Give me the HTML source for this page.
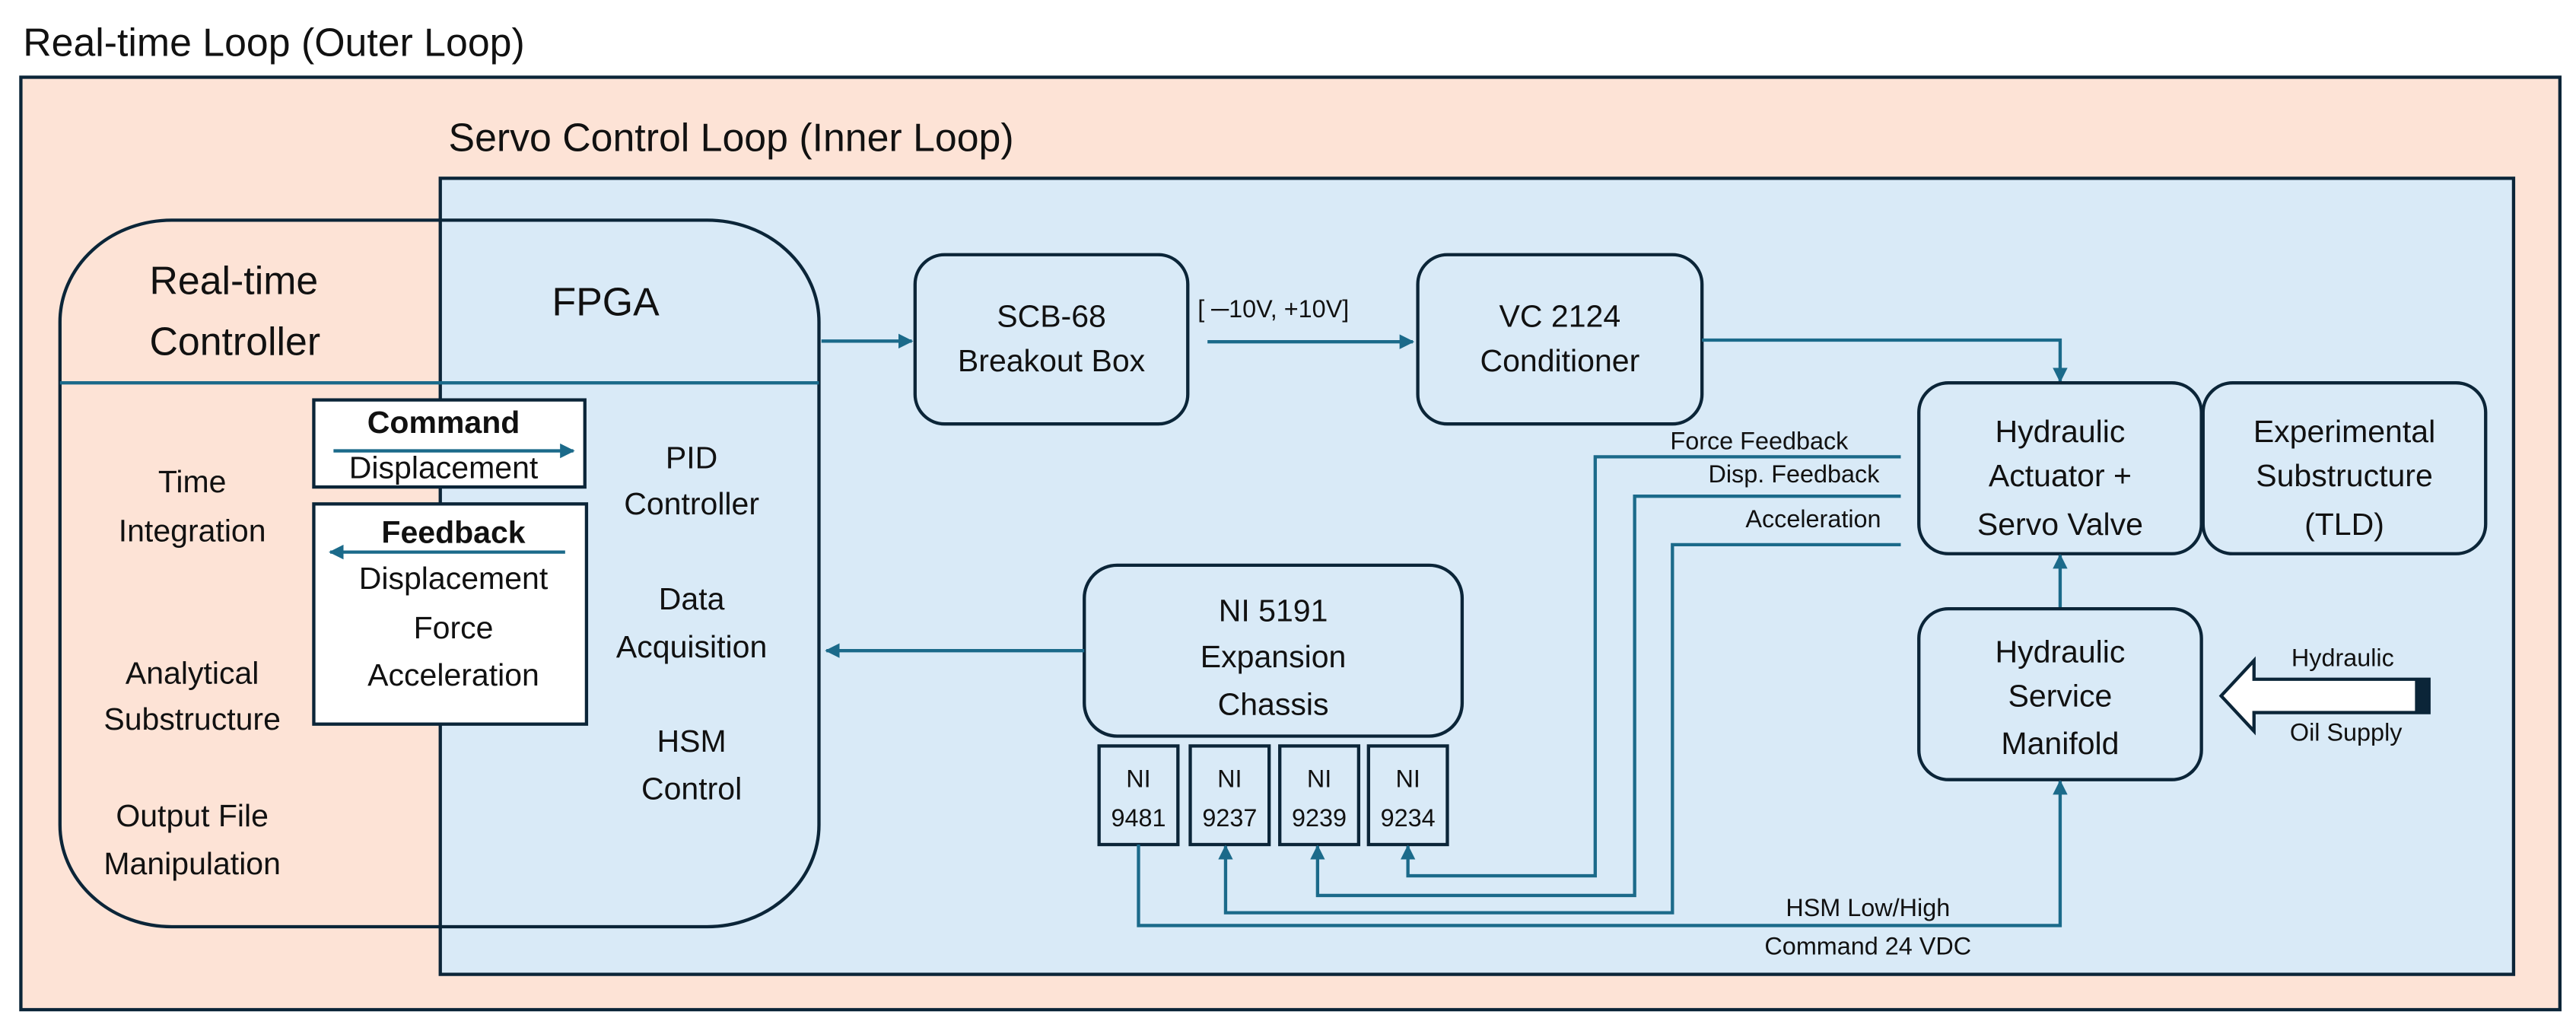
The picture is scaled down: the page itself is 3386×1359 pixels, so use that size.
<!DOCTYPE html>
<html><head><meta charset="utf-8"><style>
html,body{margin:0;padding:0;background:#fff;}
svg{display:block;}
text{font-family:"Liberation Sans",sans-serif;fill:#111;}
</style></head><body>
<svg width="3386" height="1359" viewBox="0 0 1568 629.3" preserveAspectRatio="none" xmlns="http://www.w3.org/2000/svg">
<defs>
<marker id="a" viewBox="0 0 10 10" refX="9" refY="5" markerWidth="9" markerHeight="9" markerUnits="userSpaceOnUse" orient="auto"><path d="M0,0 L10,5 L0,10 Z" fill="#1b6a8a"/></marker>
</defs>
<g font-size="19">
<!-- outer -->
<text x="14" y="34" font-size="24">Real-time Loop (Outer Loop)</text>
<rect x="12.7" y="47" width="1545.5" height="567.5" fill="#fde3d6" stroke="#0b2538" stroke-width="2"/>
<text x="273" y="92" font-size="24">Servo Control Loop (Inner Loop)</text>
<rect x="268" y="108.5" width="1262" height="484.5" fill="#d9eaf7" stroke="#0b2538" stroke-width="2"/>
<!-- big rounded -->
<rect x="36.5" y="134" width="462" height="430" rx="68" ry="62" fill="none" stroke="#0b2538" stroke-width="2"/>
<line x1="36.5" y1="233" x2="498.5" y2="233" stroke="#1b6a8a" stroke-width="2"/>
<text x="91" y="179" font-size="24">Real-time</text>
<text x="91" y="216" font-size="24">Controller</text>
<text x="336" y="192" font-size="24">FPGA</text>
<g text-anchor="middle">
<text x="117" y="299.5">Time</text><text x="117" y="329.5">Integration</text>
<text x="117" y="416">Analytical</text><text x="117" y="444">Substructure</text>
<text x="117" y="503">Output File</text><text x="117" y="532">Manipulation</text>
<text x="421" y="285">PID</text><text x="421" y="313">Controller</text>
<text x="421" y="371">Data</text><text x="421" y="400">Acquisition</text>
<text x="421" y="457.5">HSM</text><text x="421" y="486.5">Control</text>
</g>
<!-- command/feedback boxes -->
<rect x="191" y="243.4" width="165" height="53" fill="#fff" stroke="#0b2538" stroke-width="2"/>
<text x="270" y="263.4" text-anchor="middle" font-weight="bold">Command</text>
<line x1="203" y1="274.4" x2="349" y2="274.4" stroke="#1b6a8a" stroke-width="2" marker-end="url(#a)"/>
<text x="270" y="291" text-anchor="middle">Displacement</text>
<rect x="191" y="306.7" width="166" height="134" fill="#fff" stroke="#0b2538" stroke-width="2"/>
<text x="276" y="330.5" text-anchor="middle" font-weight="bold">Feedback</text>
<line x1="344" y1="336" x2="201" y2="336" stroke="#1b6a8a" stroke-width="2" marker-end="url(#a)"/>
<g text-anchor="middle">
<text x="276" y="358.4">Displacement</text><text x="276" y="388.4">Force</text><text x="276" y="417.3">Acceleration</text>
</g>
<!-- connectors top -->
<line x1="500" y1="207.6" x2="555" y2="207.6" stroke="#1b6a8a" stroke-width="2" marker-end="url(#a)"/>
<rect x="557" y="155" width="166" height="103" rx="18" fill="none" stroke="#0b2538" stroke-width="2"/>
<g text-anchor="middle"><text x="640" y="199">SCB-68</text><text x="640" y="226">Breakout Box</text></g>
<text x="729" y="193" font-size="15">[ ─10V, +10V]</text>
<line x1="735" y1="208" x2="860" y2="208" stroke="#1b6a8a" stroke-width="2" marker-end="url(#a)"/>
<rect x="863" y="155" width="173" height="103" rx="18" fill="none" stroke="#0b2538" stroke-width="2"/>
<g text-anchor="middle"><text x="949.5" y="199">VC 2124</text><text x="949.5" y="226">Conditioner</text></g>
<polyline points="1036,207 1254,207 1254,232" fill="none" stroke="#1b6a8a" stroke-width="2" marker-end="url(#a)"/>
<!-- right boxes -->
<rect x="1168" y="233" width="172" height="104" rx="18" fill="none" stroke="#0b2538" stroke-width="2"/>
<g text-anchor="middle"><text x="1254" y="269">Hydraulic</text><text x="1254" y="296">Actuator +</text><text x="1254" y="325.6">Servo Valve</text></g>
<rect x="1341" y="233" width="172" height="104" rx="18" fill="none" stroke="#0b2538" stroke-width="2"/>
<g text-anchor="middle"><text x="1427" y="269">Experimental</text><text x="1427" y="296">Substructure</text><text x="1427" y="325.6">(TLD)</text></g>
<line x1="1254" y1="370" x2="1254" y2="338" stroke="#1b6a8a" stroke-width="2" marker-end="url(#a)"/>
<rect x="1168" y="370.5" width="172" height="104" rx="18" fill="none" stroke="#0b2538" stroke-width="2"/>
<g text-anchor="middle"><text x="1254" y="403">Hydraulic</text><text x="1254" y="430">Service</text><text x="1254" y="459">Manifold</text></g>
<path d="M1352,423.5 L1372,402 L1372,413.4 L1478.5,413.4 L1478.5,433.7 L1372,433.7 L1372,445 Z" fill="#fff" stroke="#0b2538" stroke-width="2"/>
<rect x="1470" y="413.4" width="8.5" height="20.3" fill="#0b2538"/>
<g text-anchor="middle" font-size="15"><text x="1426" y="405.4">Hydraulic</text><text x="1428" y="450.8">Oil Supply</text></g>
<!-- NI 5191 -->
<rect x="660" y="344" width="230" height="104" rx="20" fill="none" stroke="#0b2538" stroke-width="2"/>
<g text-anchor="middle"><text x="775" y="378">NI 5191</text><text x="775" y="406">Expansion</text><text x="775" y="435">Chassis</text></g>
<line x1="660" y1="396" x2="503" y2="396" stroke="#1b6a8a" stroke-width="2" marker-end="url(#a)"/>
<g fill="none" stroke="#0b2538" stroke-width="2">
<rect x="669" y="454" width="48" height="60"/><rect x="724.5" y="454" width="48" height="60"/><rect x="779" y="454" width="48" height="60"/><rect x="833" y="454" width="48" height="60"/>
</g>
<g text-anchor="middle" font-size="15">
<text x="693" y="479">NI</text><text x="693" y="503">9481</text>
<text x="748.5" y="479">NI</text><text x="748.5" y="503">9237</text>
<text x="803" y="479">NI</text><text x="803" y="503">9239</text>
<text x="857" y="479">NI</text><text x="857" y="503">9234</text>
</g>
<!-- feedback lines -->
<g fill="none" stroke="#1b6a8a" stroke-width="2">
<polyline points="1157,278 971,278 971,533 857,533 857,515" marker-end="url(#a)"/>
<polyline points="1157,302 995,302 995,545 802,545 802,515" marker-end="url(#a)"/>
<polyline points="1157,331.5 1018,331.5 1018,555.5 746,555.5 746,515" marker-end="url(#a)"/>
<polyline points="693,514 693,563.3 1254,563.3 1254,475.5" marker-end="url(#a)"/>
</g>
<g text-anchor="end" font-size="15">
<text x="1125" y="273.4">Force Feedback</text><text x="1144" y="293.7">Disp. Feedback</text><text x="1145" y="320.8">Acceleration</text>
</g>
<g text-anchor="middle" font-size="15"><text x="1137" y="557.5">HSM Low/High</text><text x="1137" y="581">Command 24 VDC</text></g>
</g>
</svg>
</body></html>
